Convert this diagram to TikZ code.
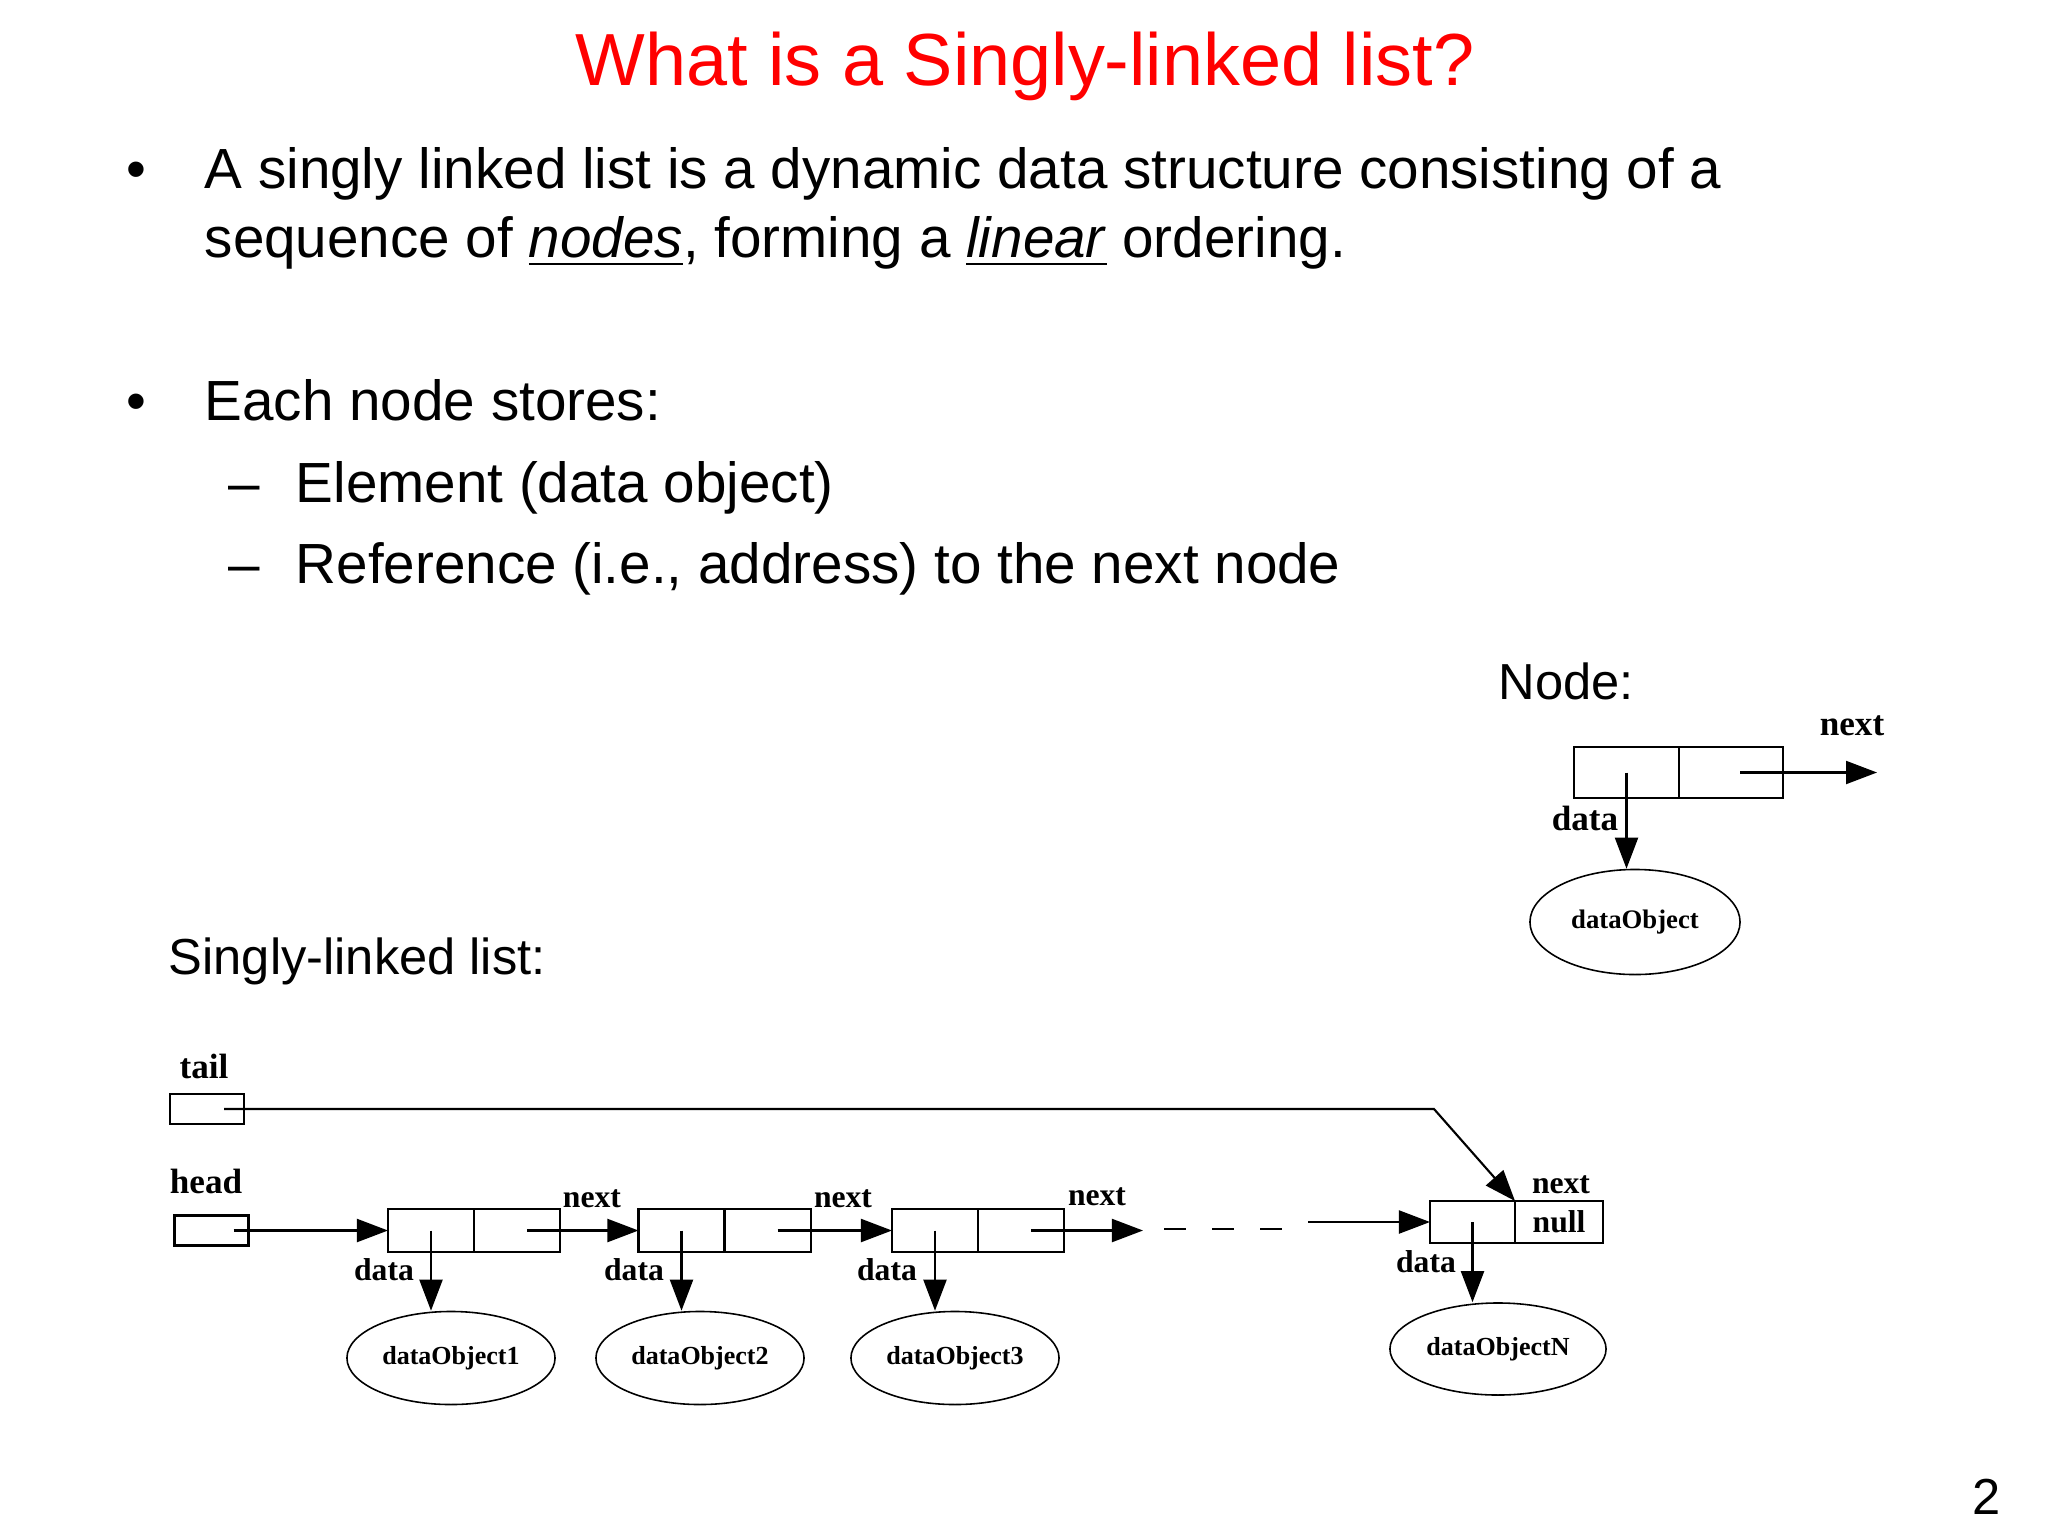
\documentclass[tikz,border=0pt]{standalone}
\usepackage{fontspec}
\setmainfont{Liberation Sans}
\newfontfamily\figfont{Liberation Serif}
\newcommand\ulword[1]{{\setbox0\hbox{#1}\rlap{\rule[-2.3pt]{\wd0}{0.7pt}}\box0}}
\definecolor{TitleRed}{HTML}{FF0000}
\usetikzlibrary{arrows.meta,positioning,shapes.geometric}
\tikzset{
  titleText/.style={anchor=base, inner sep=0pt, text=TitleRed, font=\fontsize{21}{25}\selectfont},
  slideText/.style={anchor=base west, inner sep=0pt, font=\fontsize{16.1}{19.6}\selectfont},
  captionText/.style={anchor=base west, inner sep=0pt, font=\fontsize{14.4}{17}\selectfont},
  tagText/.style={anchor=base, inner sep=0pt, font=\figfont\bfseries\fontsize{9}{10}\selectfont},
  bigTagText/.style={anchor=base, inner sep=0pt, font=\figfont\bfseries\fontsize{10}{11}\selectfont},
  cellNode/.style={draw, line width=0.6pt, minimum width=0.86cm, minimum height=0.43cm, inner sep=0pt, outer sep=0pt},
  ptrBox/.style={draw, line width=0.6pt, minimum width=0.74cm, minimum height=0.30cm, inner sep=0pt, outer sep=0pt},
  objNode/.style={ellipse, draw, line width=0.45pt, minimum width=2.08cm, minimum height=0.93cm, inner sep=0pt, font=\figfont\bfseries\fontsize{7.4}{8}\selectfont},
  ptrEdge/.style={-{Triangle[length=3.1mm, width=2.3mm]}, line width=0.6pt},
  gapEdge/.style={line width=0.8pt, dash pattern=on 2.2mm off 2.6mm}
}

\begin{document}
\begin{tikzpicture}[x=0.01cm, y=-0.01cm]
  \useasboundingbox (0,0) rectangle (2048,1536);

  \node[titleText] (title) at (1025,85) {What is a Singly-linked list?};

  \node[slideText] (dotA) at (126,188) {\textbullet};
  \node[slideText] (itemA1) at (204,188) {A singly linked list is a dynamic data structure consisting of a};
  \node[slideText] (itemA2) at (204,257) {sequence of \ulword{\textit{nodes}}, forming a \ulword{\textit{linear}} ordering.};
  \node[slideText] (dotB) at (126,420) {\textbullet};
  \node[slideText] (itemB) at (204,420) {Each node stores:};
  \node[slideText] (dashB1) at (228,502) {\textendash};
  \node[slideText] (subB1) at (295,502) {Element (data object)};
  \node[slideText] (dashB2) at (228,583) {\textendash};
  \node[slideText] (subB2) at (295,583) {Reference (i.e., address) to the next node};

  \node[captionText] (nodeCap) at (1498,699) {Node:};
  \node[captionText] (listCap) at (168,974) {Singly-linked list:};
  \node[captionText] (pageNo) at (1972,1514) {2};

  % single node
  \node[cellNode, minimum width=1.05cm, minimum height=0.51cm] (sd) at (1626.5,772.5) {};
  \node[cellNode, minimum width=1.04cm, minimum height=0.51cm, right=0pt of sd] (sn) {};
  \node[objNode, minimum width=2.10cm, minimum height=1.05cm, font=\figfont\bfseries\fontsize{7.6}{8}\selectfont] (so) at (1635,922) {dataObject};
  \coordinate (snEnd) at (1877,772.5);
  \node[bigTagText] (snTag) at (1852,735) {next};
  \node[bigTagText] (sdTag) at (1585,830) {data};

  \draw[ptrEdge] (sd.center) -- (sd.center |- so.north);
  \draw[ptrEdge] ([xshift=0.09cm]sn.center) -- (snEnd);

  % list
  \node[ptrBox] (tailBox) at (207,1109) {};
  \node[ptrBox] (headBox) at (211.5,1230.5) {};
  \node[bigTagText] (tailTag) at (204,1078) {tail};
  \node[bigTagText] (headTag) at (206,1193) {head};

  \node[cellNode] (n1d) at (431,1230.5) {};
  \node[cellNode, right=0pt of n1d] (n1n) {};
  \node[cellNode] (n2d) at (681.5,1230.5) {};
  \node[cellNode, right=0pt of n2d] (n2n) {};
  \node[cellNode] (n3d) at (935,1230.5) {};
  \node[cellNode, right=0pt of n3d] (n3n) {};
  \node[cellNode, minimum width=0.85cm, minimum height=0.42cm] (nNd) at (1472.5,1222) {};
  \node[cellNode, minimum width=0.88cm, minimum height=0.42cm, right=0pt of nNd, font=\figfont\bfseries\fontsize{9}{10}\selectfont] (nNn) {null};

  \node[objNode] (o1) at (451,1358) {dataObject1};
  \node[objNode] (o2) at (700,1358) {dataObject2};
  \node[objNode] (o3) at (955,1358) {dataObject3};
  \node[objNode, minimum width=2.16cm, minimum height=0.92cm] (oN) at (1498,1349) {dataObjectN};

  \node[tagText] (n1Tag) at (592,1207) {next};
  \node[tagText] (n2Tag) at (843,1207) {next};
  \node[tagText] (n3Tag) at (1097,1205) {next};
  \node[tagText] (nNTag) at (1561,1193) {next};
  \node[tagText] (d1Tag) at (384,1280) {data};
  \node[tagText] (d2Tag) at (634,1280) {data};
  \node[tagText] (d3Tag) at (887,1280) {data};
  \node[tagText] (dNTag) at (1426,1272) {data};

  \coordinate (gapA) at (1143,1230.5);
  \coordinate (gapB) at (1164,1229);
  \coordinate (gapC) at (1282,1229);
  \coordinate (gapD) at (1308,1222);
  \coordinate (tailBend) at (1434,1109);

  \draw[ptrEdge] ([xshift=0.22cm]headBox.center) -- (n1d.west);
  \draw[ptrEdge] ([xshift=0.1cm]n1n.center) -- (n2d.west);
  \draw[ptrEdge] ([xshift=0.1cm]n2n.center) -- (n3d.west);
  \draw[ptrEdge] ([xshift=0.1cm]n3n.center) -- (gapA);
  \draw[gapEdge] (gapB) -- (gapC);
  \draw[ptrEdge] (gapD) -- (nNd.west);
  \draw[ptrEdge] ([xshift=0.17cm]tailBox.center) -- (tailBend) -- (nNd.north east);

  \draw[ptrEdge] (n1d.center) -- (n1d.center |- o1.north);
  \draw[ptrEdge] (n2d.center) -- (n2d.center |- o2.north);
  \draw[ptrEdge] (n3d.center) -- (n3d.center |- o3.north);
  \draw[ptrEdge] (nNd.center) -- (nNd.center |- oN.north);
\end{tikzpicture}
\end{document}
